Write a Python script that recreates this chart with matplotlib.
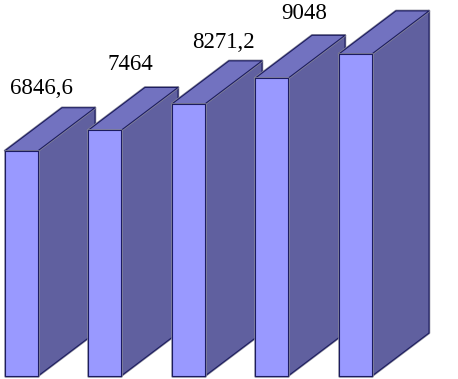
import matplotlib
matplotlib.use('Agg')
import matplotlib.pyplot as plt
from matplotlib.patches import Polygon

# Bar values, the last label falls outside the picture
values = [6846.6, 7464, 8271.2, 9048, 9790]
labels = ["6846,6", "7464", "8271,2", "9048"]

# Pixels per value unit, and the fake 3D depth
SCALE = 0.0329
DEPTH_X = 57
DEPTH_Y = 43 / SCALE

bar_left = [5, 88, 172, 255, 339]
bar_width = 33
label_x = [41.5, 130.5, 223, 304]
label_gap = [62, 66, 61, 65]

FRONT = "#9999ff"
TOP = "#7272c0"
SIDE = "#60609f"
EDGE = "#1c1c60"

fig = plt.figure(figsize=(4.58, 3.79), dpi=100)
ax = fig.add_axes([0, 0, 1, 1])
ax.set_xlim(0, 458)
ax.set_ylim(-3 / SCALE, 376 / SCALE)
ax.axis("off")


def face(points, color):
    # Soft grey line under the dark one, like the blur in the original
    ax.add_patch(Polygon(points, closed=True, facecolor=color, edgecolor="#8a8a9a",
                         linewidth=1.8, joinstyle="round"))
    ax.add_patch(Polygon(points, closed=True, facecolor=color, edgecolor=EDGE,
                         linewidth=0.8, joinstyle="round"))


# Left to right, each bar covers the side of the one before it
for left, value in zip(bar_left, values):
    right = left + bar_width
    side = [(right, 0), (right + DEPTH_X, DEPTH_Y), (right + DEPTH_X, value + DEPTH_Y), (right, value)]
    top = [(left, value), (left + DEPTH_X, value + DEPTH_Y), (right + DEPTH_X, value + DEPTH_Y), (right, value)]
    front = [(left, 0), (right, 0), (right, value), (left, value)]
    face(side, SIDE)
    face(top, TOP)
    face(front, FRONT)

for x, gap, value, label in zip(label_x, label_gap, values, labels):
    ax.text(x, value + gap / SCALE, label, family="Liberation Serif", fontsize=16.5,
            color="black", ha="center", va="center")

fig.savefig("out.png", dpi=100)
